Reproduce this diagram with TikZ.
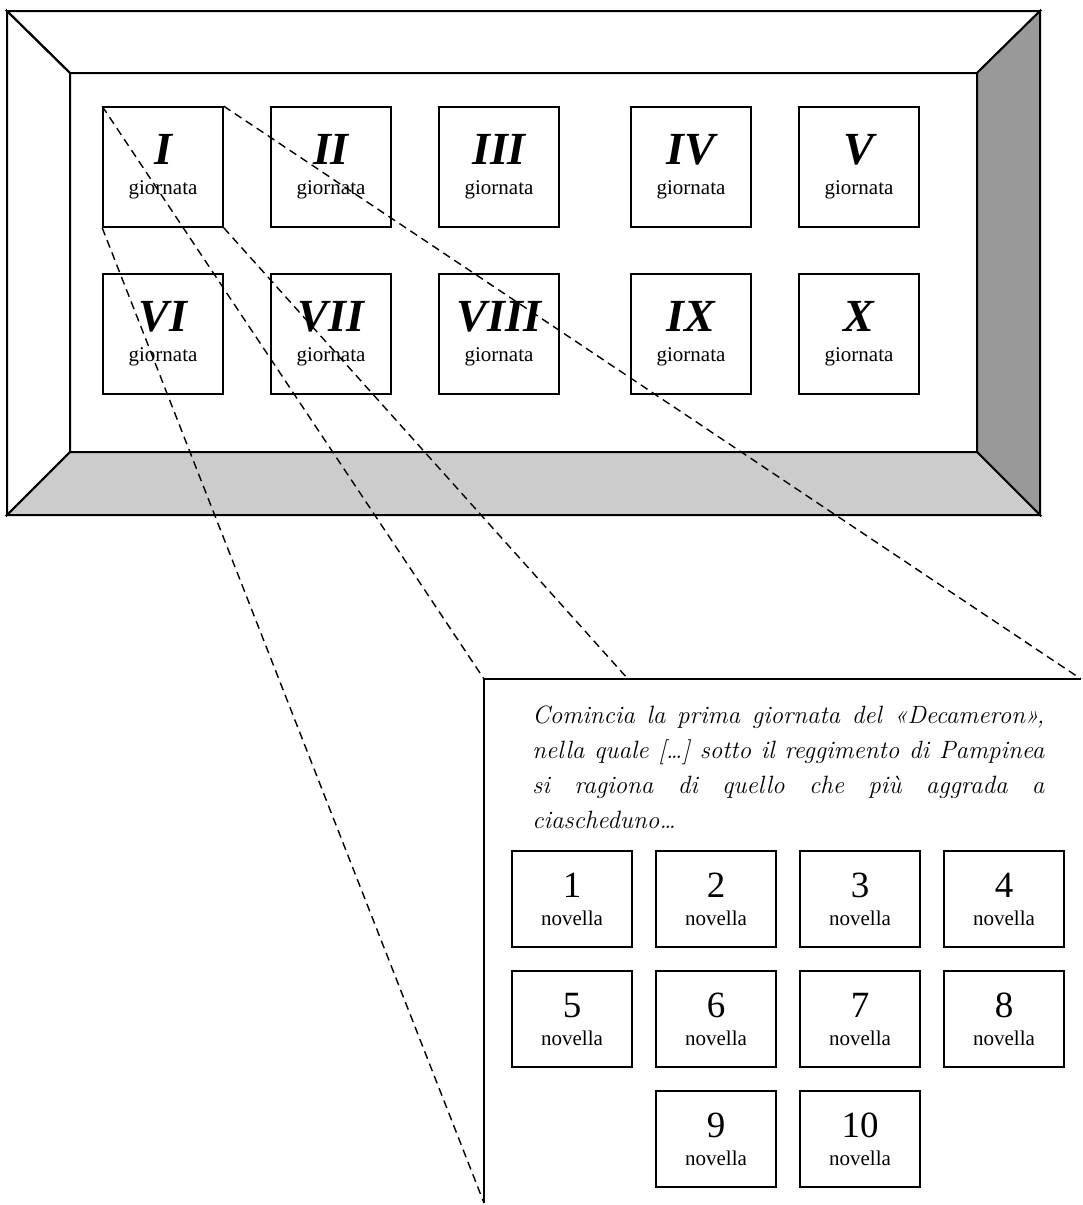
\documentclass[tikz,border=0pt]{standalone}
\usepackage{fontspec}
\newfontfamily\tnr{Liberation Serif}
\definecolor{sidegray}{HTML}{999999}
\definecolor{floorgray}{HTML}{CCCCCC}
\newcommand{\numgiorno}[1]{{\fontsize{23}{15}\selectfont\bfseries\itshape #1}}
\newcommand{\numnov}[1]{{\fontsize{18.5}{14}\selectfont #1}}
\tikzset{
  frame/.style={draw, line width=1pt, line join=miter},
  giornobox/.style={draw, line width=0.8pt, minimum width=60pt, minimum height=60pt,
    inner sep=0pt, align=center, font=\tnr\fontsize{10.5}{15}\selectfont},
  novellabox/.style={draw, line width=0.8pt, minimum width=60pt, minimum height=48pt,
    inner sep=0pt, align=center, font=\tnr\fontsize{10.5}{14}\selectfont},
  zoomline/.style={line width=0.7pt, dash pattern=on 4pt off 2.6pt}
}
\begin{document}
\begin{tikzpicture}[x=0.5pt, y=-0.5pt]
	\useasboundingbox (0, 0) rectangle (1082, 1205);

	% the frame
	\filldraw[frame, fill=white](7, 11) -- (1040, 11) -- (977, 73) -- (70, 73) -- cycle;
	\filldraw[frame, fill=sidegray](1040, 11) -- (1040, 515) -- (977, 452) -- (977, 73) -- cycle;
	\filldraw[frame, fill=floorgray](7, 515) -- (1040, 515) -- (977, 452) -- (70, 452) -- cycle;
	\draw[frame](7, 11) -- (70, 73) -- (70, 452) -- (7, 515) -- cycle;
	\draw[frame](70, 73) rectangle (977, 452);

	% le giornate
		\node[giornobox] (g1) at(163, 167){\numgiorno{I}\\giornata};
		\node[giornobox] (g2) at(331, 167){\numgiorno{II}\\giornata};
		\node[giornobox] (g3) at(499, 167){\numgiorno{III}\\giornata};
		\node[giornobox] (g4) at(691, 167){\numgiorno{IV}\\giornata};
		\node[giornobox] (g5) at(859, 167){\numgiorno{V}\\giornata};

		\node[giornobox] (g6) at(163, 334){\numgiorno{VI}\\giornata};
		\node[giornobox] (g7) at(331, 334){\numgiorno{VII}\\giornata};
		\node[giornobox] (g8) at(499, 334){\numgiorno{VIII}\\giornata};
		\node[giornobox] (g9) at(691, 334){\numgiorno{IX}\\giornata};
		\node[giornobox] (g10) at(859, 334){\numgiorno{X}\\giornata};

	% the page of the first day
	\coordinate (pantl) at(484, 679);
	\coordinate (pantr) at(1081, 679);
	\coordinate (panbl) at(484, 1203);
	\coordinate (panmid) at(628, 679);
	\draw[frame](panbl) -- (pantl) -- (pantr);

	\node[anchor=north west, inner sep=0pt, text width=256pt, align=justify,
		font=\fontsize{12.5}{17.5}\selectfont\itshape] (incipit) at(532, 705)
		{Comincia la prima giornata del «Decameron»,\linebreak
		 nella quale […] sotto il reggimento di Pampinea\linebreak
		 si ragiona di quello che più aggrada a\linebreak
		 ciascheduno…};

		\node[novellabox] (n1) at(572, 899){\numnov{1}\\novella};
		\node[novellabox] (n2) at(716, 899){\numnov{2}\\novella};
		\node[novellabox] (n3) at(860, 899){\numnov{3}\\novella};
		\node[novellabox] (n4) at(1004, 899){\numnov{4}\\novella};

		\node[novellabox] (n5) at(572, 1019){\numnov{5}\\novella};
		\node[novellabox] (n6) at(716, 1019){\numnov{6}\\novella};
		\node[novellabox] (n7) at(860, 1019){\numnov{7}\\novella};
		\node[novellabox] (n8) at(1004, 1019){\numnov{8}\\novella};

		\node[novellabox] (n9) at(716, 1139){\numnov{9}\\novella};
		\node[novellabox] (n10) at(860, 1139){\numnov{10}\\novella};

	% zoom lines
	\draw[zoomline](g1.north west) to (pantl);
	\draw[zoomline](g1.north east) to (pantr);
	\draw[zoomline](g1.south west) to (panbl);
	\draw[zoomline](g1.south east) to (panmid);
\end{tikzpicture}
\end{document}
